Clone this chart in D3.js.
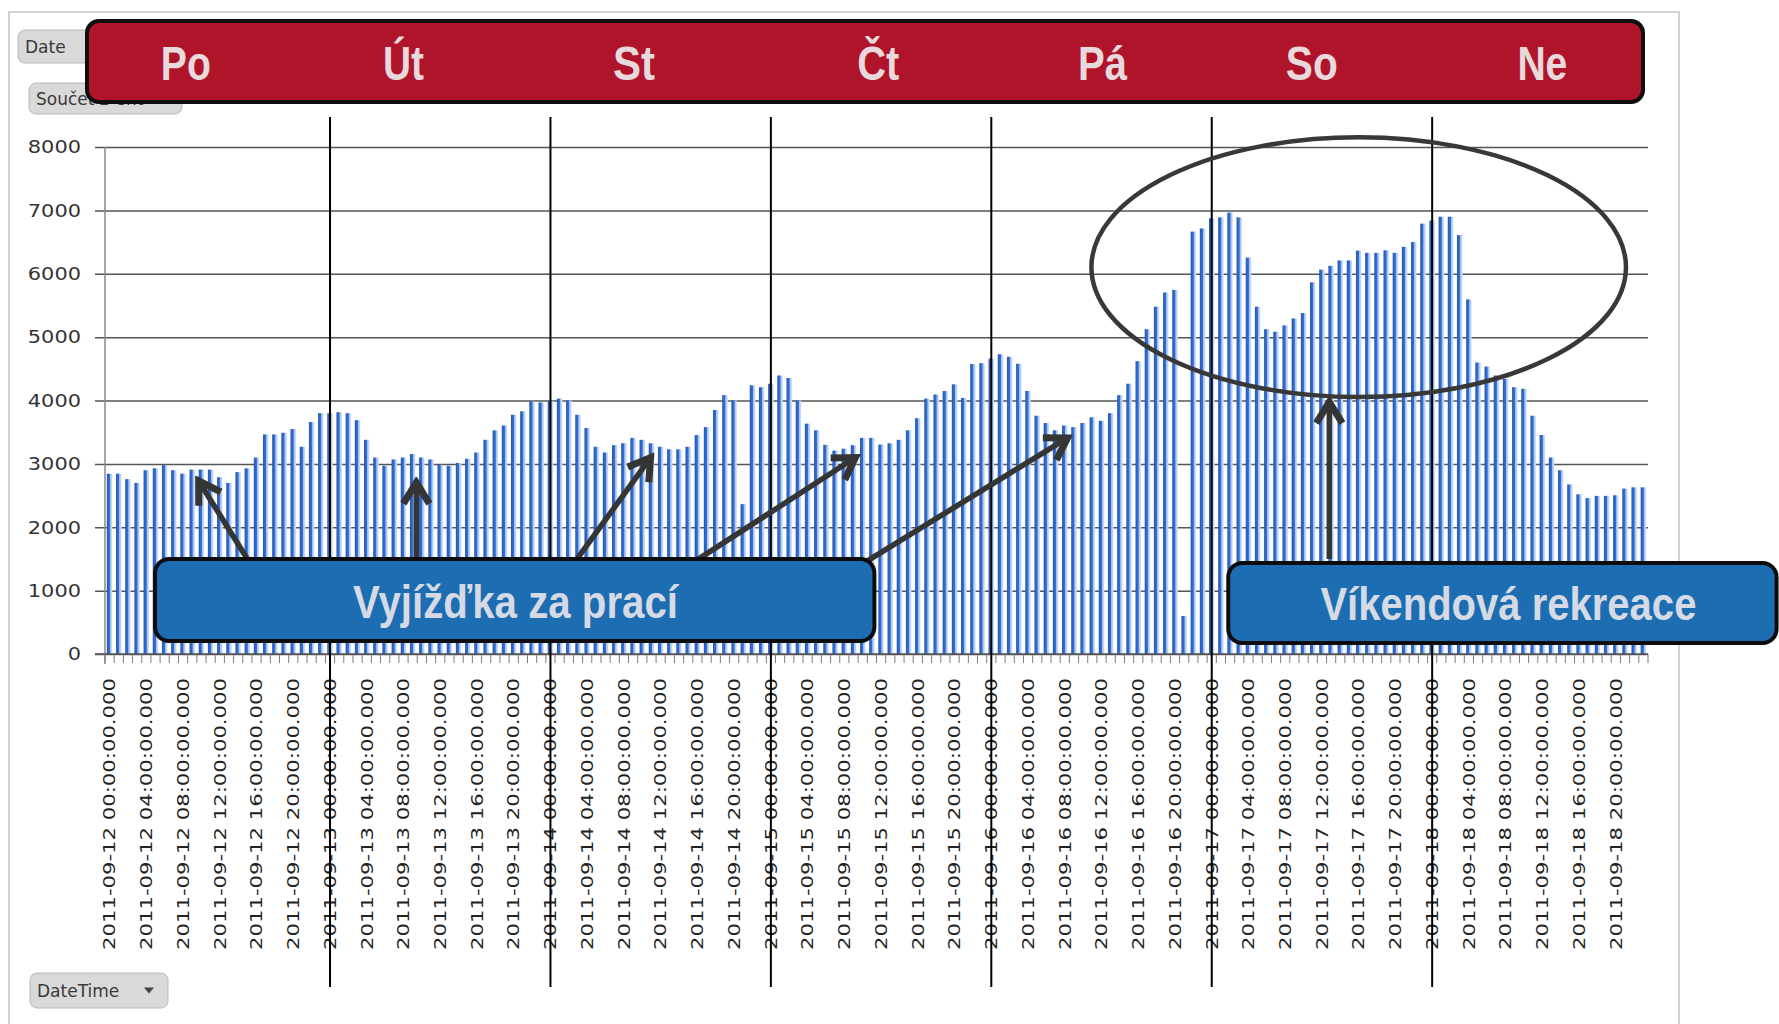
<!DOCTYPE html>
<html>
<head>
<meta charset="utf-8">
<script src="https://cdn.jsdelivr.net/npm/d3@7/dist/d3.min.js"></script>
<style>
  body { margin: 0; background: #fff; }
  svg { display: block; }
</style>
</head>
<body>
<svg id="chart" width="1779" height="1024"></svg>
<script>
// --- data ---
var dayNames = ["Po", "Út", "St", "Čt", "Pá", "So", "Ne"];
var dates = ["2011-09-12", "2011-09-13", "2011-09-14", "2011-09-15", "2011-09-16", "2011-09-17", "2011-09-18"];
var hours = ["00","01","02","03","04","05","06","07","08","09","10","11",
             "12","13","14","15","16","17","18","19","20","21","22","23"];
var yTicks = [0, 1000, 2000, 3000, 4000, 5000, 6000, 7000, 8000];

var valuesPo = [2845, 2845, 2760, 2700, 2900, 2930, 2980, 2900, 2845, 2910, 2910, 2910,
                2790, 2700, 2870, 2930, 3100, 3465, 3465, 3490, 3550, 3270, 3660, 3800];
var valuesUt = [3800, 3815, 3800, 3690, 3380, 3100, 2970, 3070, 3100, 3155, 3100, 3070,
                2985, 2970, 3015, 3080, 3180, 3380, 3530, 3605, 3775, 3830, 3985, 3970];
var valuesSt = [3990, 4030, 4000, 3775, 3565, 3270, 3180, 3295, 3325, 3410, 3380, 3325,
                3270, 3230, 3230, 3270, 3455, 3580, 3850, 4085, 4000, 2365, 4240, 4210];
var valuesCt = [4265, 4395, 4355, 4000, 3635, 3530, 3300, 3210, 3240, 3295, 3410, 3410,
                3305, 3325, 3380, 3530, 3720, 4030, 4095, 4150, 4255, 4040, 4575, 4590];
var valuesPa = [4660, 4730, 4690, 4580, 4150, 3760, 3645, 3530, 3605, 3580, 3645, 3735,
                3680, 3800, 4085, 4265, 4620, 5125, 5480, 5705, 5745, 600, 6665, 6715];
var valuesSo = [6875, 6890, 6965, 6890, 6255, 5480, 5125, 5085, 5185, 5295, 5380, 5865,
                6065, 6125, 6210, 6210, 6365, 6330, 6330, 6370, 6330, 6425, 6500, 6790];
var valuesNe = [6840, 6900, 6900, 6610, 5595, 4600, 4535, 4395, 4340, 4210, 4185, 3760,
                3455, 3100, 2900, 2675, 2520, 2460, 2495, 2495, 2505, 2610, 2630, 2630];

// annotations, in bar units (x) and data units (y)
var commuteArrows = [
  {from: [15.5, 1500], to: [10.2, 2730]},
  {from: [33.9, 1500], to: [33.9, 2705]},
  {from: [51.4, 1500], to: [59.4, 3100]},
  {from: [64.3, 1470], to: [81.7, 3100]},
  {from: [83.0, 1470], to: [104.8, 3410]}
];
var weekendArrow = {from: [133.3, 1500], to: [133.3, 3975]};

// --- build rows ---
var allValues = [valuesPo, valuesUt, valuesSt, valuesCt, valuesPa, valuesSo, valuesNe];
var rows = [];
dates.forEach(function(date, d) {
	hours.forEach(function(h, i) {
		rows.push({ label: date + " " + h + ":00:00.000", value: allValues[d][i] });
	});
});
var categories = rows.map(function(r) { return r.label; });
var tickLabels = categories.filter(function(c, i) { return i % 4 == 0; });

var svg = d3.select("#chart");
var plot = { left: 105, right: 1648, top: 147, bottom: 654 };

var x = d3.scaleBand().domain(categories).range([plot.left, plot.right])
	.paddingInner(0.4).paddingOuter(0.2);
var xu = d3.scaleLinear().domain([0, categories.length]).range([plot.left, plot.right]);
var y = d3.scaleLinear().domain([0, 8000]).range([plot.bottom, plot.top]);

var defs = svg.append("defs");
var grad = defs.append("linearGradient").attr("id", "barGrad")
	.attr("x1", 0).attr("x2", 1).attr("y1", 0).attr("y2", 0);
grad.append("stop").attr("offset", "0%").attr("stop-color", "#2858b2");
grad.append("stop").attr("offset", "50%").attr("stop-color", "#3370d8");
grad.append("stop").attr("offset", "62%").attr("stop-color", "#9dbdec");
grad.append("stop").attr("offset", "100%").attr("stop-color", "#d8e6f9");

defs.append("marker").attr("id", "head")
	.attr("viewBox", "0 0 34 34").attr("refX", 28).attr("refY", 17)
	.attr("markerWidth", 34).attr("markerHeight", 34)
	.attr("markerUnits", "userSpaceOnUse").attr("orient", "auto")
	.append("path").attr("d", "M7,4 L28,17 L7,30")
	.attr("fill", "none").attr("stroke", "#353535").attr("stroke-width", 7);

// outer frame
svg.append("rect").attr("x", 9).attr("y", 12).attr("width", 1670).attr("height", 1040)
	.attr("fill", "#fff").attr("stroke", "#c4c4c4").attr("stroke-width", 1.5);

// pivot field buttons
var button = function(bx, by, bw, bh, text, arrow) {
	var g = svg.append("g");
	g.append("rect").attr("x", bx).attr("y", by).attr("width", bw).attr("height", bh)
		.attr("rx", 7).attr("fill", "#d9d9d9").attr("stroke", "#b8b8b8");
	g.append("text").attr("x", bx + 7).attr("y", by + bh / 2).attr("dy", "0.36em")
		.attr("font-family", "DejaVu Sans, sans-serif").attr("font-size", 17)
		.attr("fill", "#3a3a3a").text(text);
	if (arrow) {
		g.append("path").attr("d", "M" + (bx + bw - 24) + "," + (by + bh / 2 - 3) +
			" l10,0 l-5,6 z").attr("fill", "#444");
	}
};
button(18, 30, 80, 33, "Date", false);
button(29, 83, 153, 31, "Součet z Cnt", false);
button(30, 973, 138, 35, "DateTime", true);

// gridlines + y labels
var yAxis = d3.axisLeft(y).tickValues(yTicks).tickSize(-(plot.right - plot.left + 10))
	.tickPadding(14).tickFormat(d3.format("d"));
var gy = svg.append("g").attr("transform", "translate(" + (plot.left - 10) + ",0)").call(yAxis);
gy.select(".domain").remove();
gy.selectAll("line").attr("stroke", "#555").attr("stroke-width", 1.5);
gy.selectAll("text").attr("font-family", "DejaVu Sans, sans-serif").attr("font-size", 18)
	.attr("fill", "#333")
	.attr("textLength", function(d) { return String(d).length * 13.3; })
	.attr("lengthAdjust", "spacingAndGlyphs");

// bars
svg.append("g").selectAll("rect").data(rows).enter().append("rect")
	.attr("x", function(d) { return x(d.label); })
	.attr("y", function(d) { return y(d.value); })
	.attr("width", x.bandwidth())
	.attr("height", function(d) { return y(0) - y(d.value); })
	.attr("fill", "url(#barGrad)");

// axes lines
svg.append("line").attr("x1", plot.left).attr("x2", plot.left)
	.attr("y1", plot.top).attr("y2", plot.bottom + 10).attr("stroke", "#8a8a8a").attr("stroke-width", 1.5);
svg.append("line").attr("x1", plot.left - 10).attr("x2", plot.right)
	.attr("y1", plot.bottom).attr("y2", plot.bottom).attr("stroke", "#555").attr("stroke-width", 1.5);

// minor ticks between categories
svg.append("g").selectAll("line").data(d3.range(categories.length + 1)).enter().append("line")
	.attr("x1", function(i) { return xu(i); }).attr("x2", function(i) { return xu(i); })
	.attr("y1", plot.bottom).attr("y2", plot.bottom + 9)
	.attr("stroke", "#7a7a7a").attr("stroke-width", 1);

// x labels
var xAxis = d3.axisBottom(x).tickValues(tickLabels).tickSize(0);
var gx = svg.append("g").attr("transform", "translate(0," + plot.bottom + ")").call(xAxis);
gx.select(".domain").remove();
gx.selectAll("text")
	.attr("transform", "rotate(-90)")
	.attr("text-anchor", "end")
	.attr("x", -24).attr("y", 0).attr("dy", "0.36em")
	.attr("font-family", "DejaVu Sans, sans-serif").attr("font-size", 16)
	.attr("fill", "#222")
	.attr("textLength", 272).attr("lengthAdjust", "spacingAndGlyphs");

// day separators
svg.append("g").selectAll("line").data(d3.range(1, 7)).enter().append("line")
	.attr("x1", function(d) { return xu(d * 24 + 0.5); })
	.attr("x2", function(d) { return xu(d * 24 + 0.5); })
	.attr("y1", 117).attr("y2", 987)
	.attr("stroke", "#000").attr("stroke-width", 2);

// weekend ellipse
svg.append("ellipse")
	.attr("cx", xu(136.5)).attr("cy", y(6104))
	.attr("rx", xu(136.5 + 29.1) - xu(136.5)).attr("ry", y(6104) - y(6104 + 2050))
	.attr("fill", "none").attr("stroke", "#383838").attr("stroke-width", 4.5);

// arrows
var drawArrow = function(a) {
	svg.append("line")
		.attr("x1", xu(a.from[0])).attr("y1", y(a.from[1]))
		.attr("x2", xu(a.to[0])).attr("y2", y(a.to[1]))
		.attr("stroke", "#353535").attr("stroke-width", 5.5)
		.attr("marker-end", "url(#head)");
};
commuteArrows.forEach(drawArrow);
drawArrow(weekendArrow);

// annotation boxes
var noteBox = function(u0, u1, v0, v1, text, tu, tv, tw) {
	svg.append("rect")
		.attr("x", xu(u0)).attr("y", y(v1))
		.attr("width", xu(u1) - xu(u0)).attr("height", y(v0) - y(v1))
		.attr("rx", 14).attr("fill", "#1d6db3").attr("stroke", "#0c0c0c").attr("stroke-width", 4);
	svg.append("text").attr("x", xu(tu)).attr("y", y(tv))
		.attr("text-anchor", "middle")
		.attr("font-family", "'Liberation Sans Narrow', 'Liberation Sans', Arial, sans-serif")
		.attr("font-weight", "bold").attr("font-size", 46)
		.attr("fill", "#d6dae4")
		.attr("textLength", tw).attr("lengthAdjust", "spacingAndGlyphs")
		.text(text);
};
noteBox(5.45, 83.77, 205, 1498, "Vyjížďka za prací", 44.7, 568, 325);
noteBox(122.3, 182, 173, 1435, "Víkendová rekreace", 152.8, 536, 376);

// day banner
svg.append("rect").attr("x", 87).attr("y", 21).attr("width", 1556).attr("height", 81)
	.attr("rx", 12).attr("fill", "#b0142b").attr("stroke", "#0e0e0e").attr("stroke-width", 4);
var dayLabelAt = [8.8, 32.5, 57.6, 84.2, 108.6, 131.4, 156.5];
var dayLabelWidth = [50, 41, 42, 42, 49, 52, 50];
svg.append("g").selectAll("text").data(dayNames).enter().append("text")
	.attr("x", function(d, i) { return xu(dayLabelAt[i]); })
	.attr("y", 80)
	.attr("text-anchor", "middle")
	.attr("font-family", "'Liberation Sans Narrow', 'Liberation Sans', Arial, sans-serif")
	.attr("font-weight", "bold").attr("font-size", 48)
	.attr("fill", "#e8d9dc")
	.attr("textLength", function(d, i) { return dayLabelWidth[i]; })
	.attr("lengthAdjust", "spacingAndGlyphs")
	.text(function(d) { return d; });
</script>
</body>
</html>
